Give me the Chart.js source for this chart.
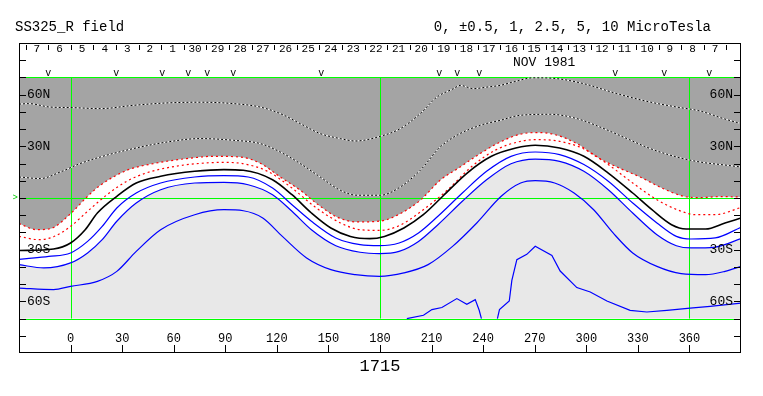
<!DOCTYPE html>
<html>
<head>
<meta charset="utf-8">
<script src="https://cdn.jsdelivr.net/npm/chart.js@4.4.0/dist/chart.umd.min.js"></script>
<style>
  html, body { margin: 0; padding: 0; background: #fff; }
</style>
</head>
<body>
<canvas id="map" width="763" height="396"></canvas>
<script>
// Source surface field map, Carrington rotation 1715 (lon / lat in degrees)
const rotation = '1715';
const titleLeft = 'SS325_R field';
const titleRight = '0, \u00b10.5, 1, 2.5, 5, 10 MicroTesla';
const monthLabel = 'NOV 1981';

const lonTicks = [0, 30, 60, 90, 120, 150, 180, 210, 240, 270, 300, 330, 360];
const latLabels = [60, 30, -30, -60];
const latTickMarks = [-80, -70, -60, -50, -40, -30, -20, -10, 0, 10, 20, 30, 40, 50, 60, 70, 80];
const dayLabels = ['7', '6', '5', '4', '3', '2', '1', '30', '29', '28', '27', '26', '25', '24', '23', '22',
    '21', '20', '19', '18', '17', '16', '15', '14', '13', '12', '11', '10', '9', '8', '7'];
const firstDayLon = -19.6;
const dayStep = 13.15;
const markerLon = [-13, 26.6, 53.4, 68.5, 79.5, 94.6, 145.8, 214.4, 224.9, 237.7, 316.8, 345.3, 371.5];
const guideLon = [0, 180, 360];
const guideLat = [70, 0, -70];

// negative contours (dotted, inside dark region)
const neg5Lon = [-30, -24.4, -11.8, 0, 17.3, 36.6, 56.1, 75.4, 94.8, 110.3, 122, 133.6, 145.2, 156.9, 165.6, 180.1,
    191.8, 203.4, 213.1, 222.8, 226.6, 234.4, 242.2, 249.9, 257.6, 269.3, 282.9, 298.4, 317.8, 337.2, 352.7, 366.2, 379.8, 390];
const neg5Lat = [54.5, 54.8, 52.8, 52.5, 51.9, 53.8, 55.2, 55.6, 54.8, 52.8, 49.0, 43.2, 37.4, 34.5, 33.1, 35.8,
    40.3, 49.0, 58.6, 63.5, 65.4, 63.5, 64.4, 65.4, 67.4, 69.8, 69.3, 66.4, 60.6, 55.7, 52.8, 50.5, 46.1, 43.2];

const neg25Lon = [-30, -17.6, -6, 5.6, 17.3, 36.6, 56.1, 75.4, 94.8, 110.3, 122, 133.6, 145.2, 156.9, 166.6, 180.1,
    191.8, 203.4, 215, 224.7, 238.3, 249.9, 261.5, 279, 294.5, 308, 323.6, 337.2, 352.7, 366.2, 381.8, 390];
const neg25Lat = [12.2, 11.3, 15.1, 20.0, 23.8, 28.7, 32.5, 34.5, 33.5, 31.6, 26.7, 20.0, 12.2, 4.5, 1.6, 1.6,
    6.4, 16.1, 29.6, 36.4, 42.2, 45.1, 48.0, 48.6, 46.1, 41.2, 34.5, 28.7, 23.8, 20.9, 19.0, 18.0];

const neg1Lon = [-30, -19.5, -11.8, 0, 9.5, 17.3, 32.8, 48.3, 67.7, 83.2, 98.7, 110.3, 122, 133.6, 143.3, 154.9,
    166.6, 180.1, 191.8, 203.4, 215, 226.6, 238.3, 249.9, 261.5, 271.3, 280.9, 294.5, 306.1, 317.8, 331.3, 344.9,
    356.5, 366.2, 378, 390];
const neg1Lat = [-14.9, -18.4, -17.8, -9.1, 0.6, 7.4, 16.1, 20.0, 22.9, 24.2, 23.8, 20.2, 12.2, 4.5, -3.3, -11.0,
    -13.9, -13.4, -9.1, -1.3, 10.3, 18.0, 25.8, 32.5, 37.0, 38.0, 37.0, 31.6, 23.8, 18.0, 12.2, 5.4,
    1.0, 0.2, 0.8, 0.6];

const neg05Lon = [-30, -18.4, -9.9, 0, 9.9, 21.2, 32.6, 43.9, 60.9, 77.8, 89.2, 100.5, 114.6, 128.8, 143, 157.1,
    168.4, 179.7, 191.1, 205.2, 219.4, 233.5, 247.7, 261.8, 270.3, 284.5, 298.6, 312.8, 327, 341.1, 355.2, 363.7, 375, 390];
const neg05Lat = [-22.3, -24.2, -22.5, -16.5, -7.7, 1.9, 9.7, 14.5, 18.4, 20.3, 20.7, 19.9, 15.5, 5.8, -5.8, -14.5,
    -18.4, -18.8, -16.1, -6.8, 4.8, 18.4, 28.1, 32.9, 33.9, 32.9, 28.5, 19.4, 8.7, -1.0, -7.7, -9.7, -9.7, -5.5];

// neutral line
const zeroLon = [-30, -9.9, 0, 8.5, 15.6, 26.9, 38.2, 52.4, 72.2, 89.2, 100.5, 117.5, 128.8, 140.1, 151.4, 162.8,
    174.1, 182.6, 193.9, 205.2, 216.5, 230.7, 244.8, 259, 270.3, 284.5, 298.6, 312.8, 327, 338.2, 349.6, 358.1,
    369.4, 380.7, 390];
const zeroLat = [-30.5, -29.6, -26.1, -18.4, -8.7, 1.0, 8.7, 12.6, 15.5, 16.5, 16.1, 10.6, 1.9, -8.7, -17.4, -22.3,
    -23.6, -22.3, -17.4, -9.7, 1.0, 14.5, 24.2, 29.0, 30.6, 29.0, 24.2, 14.5, 2.9, -6.8, -15.5, -18.0,
    -18.0, -14.5, -11.6];

// positive contours (blue)
const pos05Lon = [-30, -25.5, -12.7, 0, 9.9, 18.4, 26.9, 38.2, 52.4, 72.2, 89.2, 103.3, 117.5, 128.8, 140.1, 154.3,
    168.4, 179.7, 191.1, 202.4, 213.7, 227.9, 242, 256.2, 270.3, 284.5, 298.6, 312.8, 327, 341.1, 352.4, 360.9, 375, 390];
const pos05Lat = [-35.6, -35.2, -33.9, -31.9, -25.2, -16.5, -5.8, 2.9, 8.7, 12.2, 13.0, 12.2, 5.8, -3.9, -13.5, -23.2,
    -27.1, -27.7, -26.1, -20.3, -10.6, 2.9, 15.5, 24.2, 26.7, 25.2, 19.4, 9.7, -2.9, -14.5, -22.3, -23.8, -23.2, -17.0];

const pos1Lon = [-30, -15.6, 0, 9.9, 18.4, 26.9, 38.2, 52.4, 72.2, 89.2, 103.3, 117.5, 128.8, 140.1, 154.3, 168.4,
    179.7, 191.1, 202.4, 213.7, 227.9, 242, 256.2, 270.3, 284.5, 298.6, 312.8, 327, 341.1, 352.4, 360.9, 375, 390];
const pos1Lat = [-38.7, -40.6, -37.7, -31.9, -24.2, -13.5, -2.9, 4.8, 8.7, 9.1, 7.7, 1.9, -7.7, -18.4, -27.7, -31.5,
    -32.3, -31.0, -25.2, -15.5, -1.9, 10.6, 19.9, 22.6, 21.3, 15.5, 4.8, -8.7, -21.3, -27.7, -29.0, -28.5, -23.6];

const pos25Lon = [-30, -9.9, 0, 15.6, 26.9, 38.2, 52.4, 72.2, 89.2, 100.5, 111.8, 123.2, 137.3, 151.4, 165.6, 179.7,
    193.9, 208, 222.2, 236.3, 250.5, 261.8, 270.3, 281.6, 292.9, 304.3, 315.6, 327, 341.1, 355.2, 369.4, 380.7, 390];
const pos25Lat = [-52.3, -53.2, -51.3, -48.4, -42.6, -31.0, -18.4, -9.7, -6.8, -7.4, -11.6, -22.3, -34.8, -41.6, -44.5, -45.5,
    -43.5, -38.7, -28.1, -14.5, 1.0, 8.7, 10.1, 8.7, 2.9, -6.8, -20.3, -31.9, -39.7, -43.9, -44.5, -42.6, -39.7];

const pos5aLon = [195.6, 205.3, 210.2, 216, 224.7, 230.5, 235.4, 237.7, 239];
const pos5aLat = [-70, -68.1, -64.8, -63.6, -58.4, -61.7, -59.0, -65.2, -70];
const pos5bLon = [248.3, 249.5, 255.2, 256.7, 259.6, 265.4, 270.3, 280, 284.8, 294.5, 302.3, 312, 325.5, 335.2,
    346.9, 360.4, 372, 390];
const pos5bLat = [-70, -64.8, -59.8, -47.8, -35.8, -32.7, -28.0, -33.3, -42.4, -52.0, -54.6, -59.8, -65.2, -66.2,
    -65.2, -63.9, -62.9, -61.0];

const FONT = "'Liberation Mono', 'DejaVu Sans Mono', monospace";

function pts(lons, lats) {
    return lons.map((lon, i) => ({ x: lon, y: lats[i] }));
}

function contour(lons, lats, color, extra = {}) {
    return Object.assign({
        data: pts(lons, lats),
        borderColor: color,
        borderWidth: 1.2,
        pointRadius: 0,
        fill: false,
        cubicInterpolationMode: 'monotone'
    }, extra);
}

const mapDecor = {
    id: 'mapDecor',
    beforeDraw(chart) {
        const ctx = chart.ctx;
        ctx.save();
        ctx.fillStyle = '#ffffff';
        ctx.fillRect(0, 0, chart.width, chart.height);
        ctx.restore();
    },
    beforeDatasetsDraw(chart) {
        // green guide lines, drawn over the shading but under the contours
        const { ctx, chartArea: a, scales: { x, y } } = chart;
        const top = y.getPixelForValue(guideLat[0]);
        const bot = y.getPixelForValue(guideLat[guideLat.length - 1]);
        ctx.save();
        ctx.strokeStyle = '#00ff00';
        ctx.lineWidth = 1;
        ctx.beginPath();
        guideLat.forEach((v) => {
            const py = Math.round(y.getPixelForValue(v)) + 0.5;
            ctx.moveTo(a.left, py);
            ctx.lineTo(a.right, py);
        });
        guideLon.forEach((v) => {
            const px = Math.round(x.getPixelForValue(v)) + 0.5;
            ctx.moveTo(px, top);
            ctx.lineTo(px, bot);
        });
        ctx.stroke();
        ctx.restore();
    },
    afterDraw(chart) {
        const { ctx, chartArea: a, scales: { x, y } } = chart;
        ctx.save();
        ctx.strokeStyle = '#000';
        ctx.fillStyle = '#000';
        ctx.lineWidth = 1;

        // frame
        ctx.strokeRect(Math.round(a.left) + 0.5, Math.round(a.top) + 0.5,
            Math.round(a.right - a.left) - 1, Math.round(a.bottom - a.top) - 1);

        // latitude ticks, both sides, pointing inward
        ctx.beginPath();
        latTickMarks.forEach((v) => {
            const py = Math.round(y.getPixelForValue(v)) + 0.5;
            ctx.moveTo(a.left, py);
            ctx.lineTo(a.left + 7, py);
            ctx.moveTo(a.right - 7, py);
            ctx.lineTo(a.right, py);
        });
        // longitude ticks from the bottom
        lonTicks.forEach((v) => {
            const px = Math.round(x.getPixelForValue(v)) + 0.5;
            ctx.moveTo(px, a.bottom);
            ctx.lineTo(px, a.bottom - 8);
        });
        // day separators along the top
        for (let i = 0; i <= dayLabels.length; i++) {
            const lon = firstDayLon - dayStep / 2 + i * dayStep;
            if (lon <= x.min || lon >= x.max) continue;
            const px = Math.round(x.getPixelForValue(lon)) + 0.5;
            ctx.moveTo(px, a.top + 2);
            ctx.lineTo(px, a.top + 7);
        }
        ctx.stroke();

        // longitude labels
        ctx.font = '12px ' + FONT;
        ctx.textAlign = 'center';
        ctx.textBaseline = 'middle';
        lonTicks.forEach((v) => {
            ctx.fillText(String(v), x.getPixelForValue(v), y.getPixelForValue(-81.5));
        });

        // latitude labels
        ctx.font = '13px ' + FONT;
        latLabels.forEach((v) => {
            const txt = Math.abs(v) + (v > 0 ? 'N' : 'S');
            const py = y.getPixelForValue(v);
            ctx.textAlign = 'left';
            ctx.fillText(txt, a.left + 8, py);
            ctx.textAlign = 'right';
            ctx.fillText(txt, a.right - 8, py);
        });

        // day numbers
        ctx.font = '11px ' + FONT;
        ctx.textAlign = 'center';
        dayLabels.forEach((d, i) => {
            ctx.fillText(d, x.getPixelForValue(firstDayLon + i * dayStep), y.getPixelForValue(86.6));
        });
        ctx.font = '13px ' + FONT;
        ctx.fillText(monthLabel, x.getPixelForValue(275.5), y.getPixelForValue(78.8));

        // sector markers
        ctx.font = '10px ' + FONT;
        markerLon.forEach((v) => {
            ctx.fillText('v', x.getPixelForValue(v), y.getPixelForValue(72.6));
        });

        // equator marker outside the frame
        ctx.fillStyle = '#00cc00';
        ctx.font = '9px ' + FONT;
        ctx.textAlign = 'right';
        ctx.fillText('>', a.left - 1, y.getPixelForValue(0));

        // titles
        ctx.fillStyle = '#000';
        ctx.font = '14px ' + FONT;
        ctx.textAlign = 'left';
        ctx.fillText(titleLeft, 15, 27);
        ctx.textAlign = 'right';
        ctx.fillText(titleRight, 711, 27);
        ctx.font = '17px ' + FONT;
        ctx.textAlign = 'center';
        ctx.fillText(rotation, x.getPixelForValue(180), a.bottom + 13);
        ctx.restore();
    }
};

new Chart(document.getElementById('map'), {
    type: 'line',
    data: {
        datasets: [
            contour(zeroLon, zeroLat, '#000000', { borderWidth: 1.6 }),
            contour(neg05Lon, neg05Lat, '#ff0000', { borderDash: [2, 3] }),
            contour(neg1Lon, neg1Lat, '#ff0000', {
                borderDash: [2, 3],
                fill: { value: 70 },
                backgroundColor: '#a4a4a4'
            }),
            contour(pos05Lon, pos05Lat, '#0000ff'),
            contour(pos1Lon, pos1Lat, '#0000ff', {
                fill: { value: -70 },
                backgroundColor: '#e8e8e8'
            }),
            contour(pos25Lon, pos25Lat, '#0000ff'),
            contour(pos5aLon, pos5aLat, '#0000ff', { cubicInterpolationMode: 'default', tension: 0 }),
            contour(pos5bLon, pos5bLat, '#0000ff', { cubicInterpolationMode: 'default', tension: 0 }),
            contour(neg25Lon, neg25Lat, '#000000', { borderWidth: 1, borderDash: [2, 2] }),
            contour(neg25Lon, neg25Lat, '#ffffff', { borderWidth: 1 }),
            contour(neg5Lon, neg5Lat, '#000000', { borderWidth: 1, borderDash: [2, 2] }),
            contour(neg5Lon, neg5Lat, '#ffffff', { borderWidth: 1 })
        ]
    },
    options: {
        responsive: false,
        animation: false,
        devicePixelRatio: 1,
        layout: { padding: { left: 19, right: 22, top: 43, bottom: 43 } },
        scales: {
            x: { type: 'linear', min: -30, max: 390, display: false },
            y: { type: 'linear', min: -90, max: 90, display: false }
        },
        plugins: {
            legend: { display: false },
            tooltip: { enabled: false },
            filler: { drawTime: 'beforeDatasetsDraw' }
        }
    },
    plugins: [mapDecor]
});
</script>
</body>
</html>
